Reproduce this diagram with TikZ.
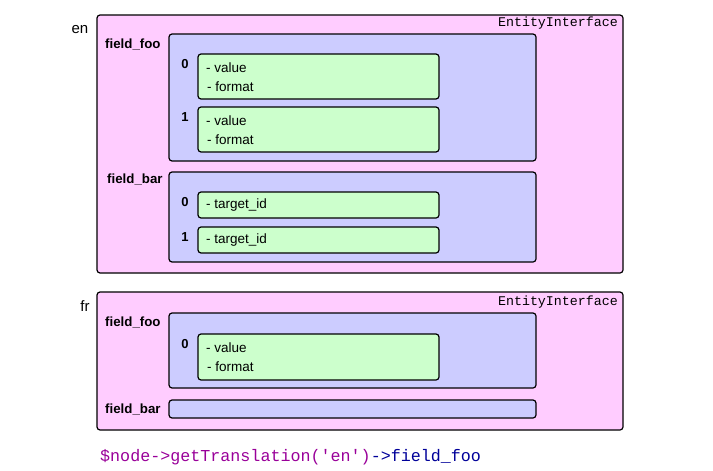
\documentclass[tikz,border=0pt]{standalone}
\usepackage{fontspec}
\setmainfont{Liberation Sans}
\setmonofont{Liberation Mono}
\begin{document}
\begin{tikzpicture}[x=1pt,y=-1pt,
  ent/.style={draw=black,line width=1.2pt,rounded corners=3pt,fill=pinkc},
  fld/.style={draw=black,line width=1.2pt,rounded corners=3pt,fill=lavc},
  itm/.style={draw=black,line width=1.2pt,rounded corners=3pt,fill=greenc},
  lbl/.style={font=\fontsize{13.3}{15}\selectfont\bfseries,anchor=west,inner sep=0pt},
  idx/.style={font=\fontsize{13}{15}\selectfont\bfseries,inner sep=0pt},
  txt/.style={font=\fontsize{13.5}{15}\selectfont,anchor=west,inner sep=0pt},
  lang/.style={font=\fontsize{15}{17}\selectfont,inner sep=0pt},
  iface/.style={font=\ttfamily\fontsize{13.3}{15}\selectfont,anchor=east,inner sep=0pt}]
\definecolor{pinkc}{HTML}{FFCCFF}
\definecolor{lavc}{HTML}{CCCCFF}
\definecolor{greenc}{HTML}{CCFFCC}
\definecolor{codep}{HTML}{990099}
\definecolor{codeb}{HTML}{000099}
\useasboundingbox (0,0) rectangle (713,471);
% en
\draw[ent] (97,15) rectangle (623,273);
\node[lang] (en) at (80,30) {en};
\node[iface] (ei1) at (618,23) {EntityInterface};
\node[lbl] (ff1) at (105,44) {field\_foo};
\draw[fld] (169,34) rectangle (536,161);
\node[idx] (i10) at (185,64) {0};
\draw[itm] (198,54) rectangle (439,99);
\node[txt] (v10) at (206,68) {- value};
\node[txt] (f10) at (207,87) {- format};
\node[idx] (i11) at (185,117) {1};
\draw[itm] (198,107) rectangle (439,152);
\node[txt] (v11) at (206,121) {- value};
\node[txt] (f11) at (207,140) {- format};
\node[lbl] (fb1) at (107,179) {field\_bar};
\draw[fld] (169,172) rectangle (536,262);
\node[idx] (i20) at (185,202) {0};
\draw[itm] (198,192) rectangle (439,218);
\node[txt] (t20) at (206,205) {- target\_id};
\node[idx] (i21) at (185,237) {1};
\draw[itm] (198,227) rectangle (439,253);
\node[txt] (t21) at (206,240) {- target\_id};
% fr
\draw[ent] (97,292) rectangle (623,430);
\node[lang] (fr) at (85,306) {fr};
\node[iface] (ei2) at (618,302) {EntityInterface};
\node[lbl] (ff2) at (105,322) {field\_foo};
\draw[fld] (169,313) rectangle (536,388);
\node[idx] (i30) at (185,344) {0};
\draw[itm] (198,334) rectangle (439,380);
\node[txt] (v30) at (206,348) {- value};
\node[txt] (f30) at (207,367) {- format};
\node[lbl] (fb2) at (105,409) {field\_bar};
\draw[fld] (169,400) rectangle (536,418);
% code
\node[font=\ttfamily\fontsize{16.7}{19}\selectfont,anchor=west,inner sep=0pt] (code) at (100,457)
  {\textcolor{codep}{\$node->getTranslation('en')}\textcolor{codeb}{->field\_foo}};
\end{tikzpicture}
\end{document}
